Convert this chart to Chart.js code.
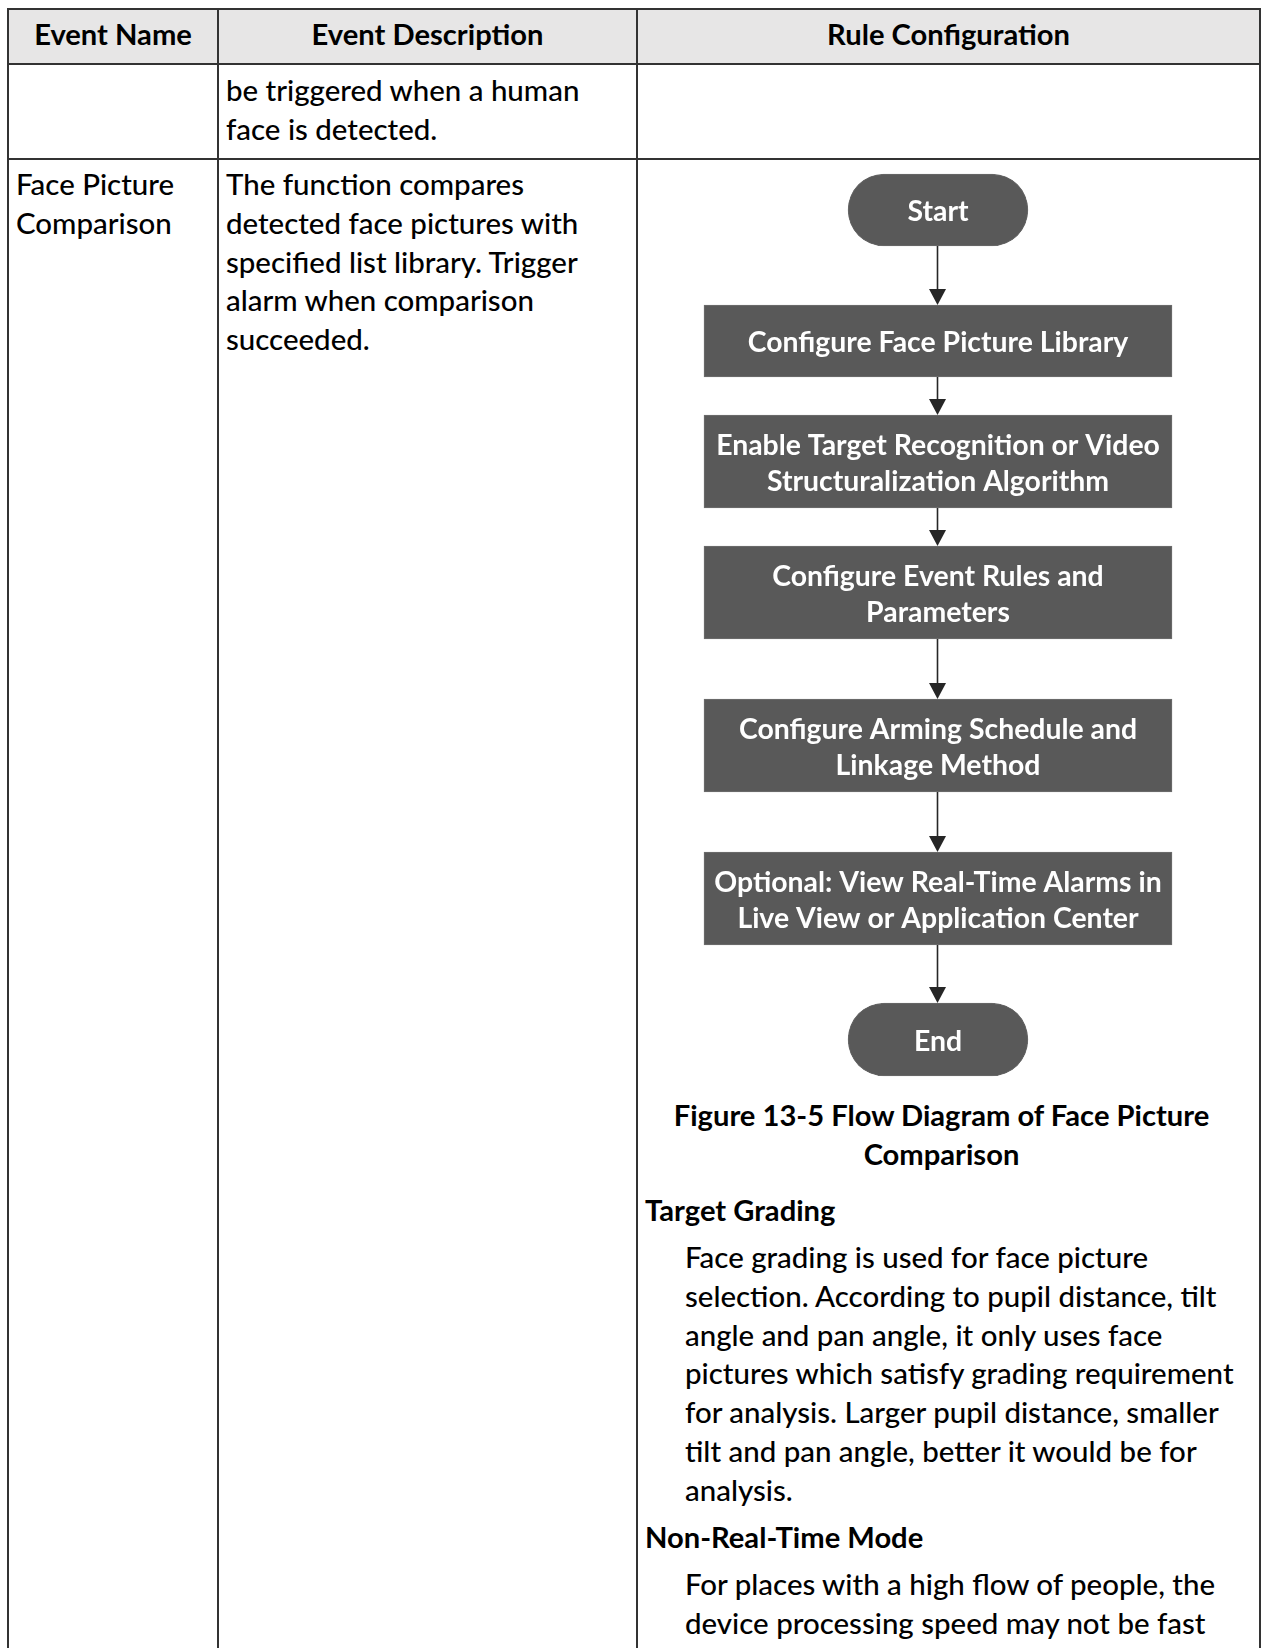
<!DOCTYPE html>
<html>
<head>
<meta charset="utf-8">
<script src="https://cdn.jsdelivr.net/npm/chart.js@4.4.1/dist/chart.umd.min.js"></script>
<style>
  html, body { margin: 0; padding: 0; background: #fff; }
  body { width: 1264px; height: 1648px; overflow: hidden; position: relative;
         font-family: Lato, "Open Sans", sans-serif; color: #000; }
  table.doc { position: absolute; left: 7px; top: 8px; width: 1254px;
              border-collapse: separate; border-spacing: 0; table-layout: fixed;
              border-left: 2px solid #333; border-top: 2px solid #333; }
  table.doc th, table.doc td { box-sizing: border-box; border-right: 2px solid #333;
              border-bottom: 2px solid #333; vertical-align: top; white-space: nowrap;
              padding: 0 0 0 7px; line-height: 38.8px; font-size: var(--fs); font-weight: var(--fw); }
  table.doc th { background: #e7e6e6; text-align: center; padding-left: 0;
                 font-weight: 700; font-size: var(--fb); }
  tr.hd { height: 55px; }
  tr.r1 { height: 95px; }
  tr.r2 { height: 1540px; }
  td.rule { padding: 0 !important; }
  .cell { position: relative; width: 100%; height: 1480px; }
  .blk { position: absolute; white-space: nowrap; line-height: 38.8px; }
  .bold { font-weight: 700; font-size: var(--fb); }
  .txt { font-size: var(--fs); font-weight: var(--fw); }
  #flow { position: absolute; left: 2px; top: 2px; }
</style>
</head>
<body>
<table class="doc">
  <thead>
    <tr class="hd">
      <th style="width:210px">Event Name</th>
      <th style="width:419px">Event Description</th>
      <th style="width:623px">Rule Configuration</th>
    </tr>
  </thead>
  <tbody>
    <tr class="r1">
      <td></td>
      <td>be triggered when a human<br>face is detected.</td>
      <td></td>
    </tr>
    <tr class="r2">
      <td>Face Picture<br>Comparison</td>
      <td>The function compares<br>detected face pictures with<br>specified list library. Trigger<br>alarm when comparison<br>succeeded.</td>
      <td class="rule">
        <div class="cell">
          <canvas id="flow" width="616" height="930"></canvas>
          <div class="blk bold" id="caption" style="left:-8px;width:623px;text-align:center">Figure 13-5 Flow Diagram of Face Picture<br>Comparison</div>
          <div class="blk bold" id="h1" style="left:7px">Target Grading</div>
          <div class="blk txt" id="p1" style="left:47px">Face grading is used for face picture<br>selection. According to pupil distance, tilt<br>angle and pan angle, it only uses face<br>pictures which satisfy grading requirement<br>for analysis. Larger pupil distance, smaller<br>tilt and pan angle, better it would be for<br>analysis.</div>
          <div class="blk bold" id="h2" style="left:7px">Non-Real-Time Mode</div>
          <div class="blk txt" id="p2" style="left:47px">For places with a high flow of people, the<br>device processing speed may not be fast</div>
        </div>
      </td>
    </tr>
  </tbody>
</table>

<script>
// flow diagram steps, top to bottom (diagram units, y grows downward)
const steps = [
  'Start',
  'Configure Face Picture Library',
  'Enable Target Recognition or Video\nStructuralization Algorithm',
  'Configure Event Rules and\nParameters',
  'Configure Arming Schedule and\nLinkage Method',
  'Optional: View Real-Time Alarms in\nLive View or Application Center',
  'End'
];
const stepKind = ['terminal', 'process', 'process', 'process', 'process', 'process', 'terminal'];
const stepTop = [12, 143, 253, 384, 537, 690, 841];
const stepBottom = [84, 215, 346, 477, 630, 783, 914];
const flowX = 298;

const LINE = 38.8;
const BODY_WEIGHT = 500;
const meas = document.createElement('canvas').getContext('2d');
function widthAt(text, weight, size) {
  meas.font = weight + ' ' + size + 'px Lato';
  return meas.measureText(text).width;
}
function baseOff(weight, size) {
  meas.font = weight + ' ' + size + 'px Lato';
  const m = meas.measureText('Hg');
  const a = Math.round(m.fontBoundingBoxAscent), d = Math.round(m.fontBoundingBoxDescent);
  return (LINE - (a + d)) / 2 + a;
}

const bodySize = 100 * 550 / widthAt('pictures which satisfy grading requirement', BODY_WEIGHT, 100);
const boldSize = 100 * 537 / widthAt('Figure 13-5 Flow Diagram of Face Picture', 700, 100);
const boxFont = 100 * 444 / widthAt('Enable Target Recognition or Video', 700, 100);
document.body.style.setProperty('--fs', bodySize + 'px');
document.body.style.setProperty('--fb', boldSize + 'px');
document.body.style.setProperty('--fw', BODY_WEIGHT);

const offN = baseOff(BODY_WEIGHT, bodySize), offB = baseOff(700, boldSize);
document.querySelectorAll('thead th').forEach(c => c.style.paddingTop = (46 - 10 - offB) + 'px');
document.querySelectorAll('tr.r1 td').forEach(c => c.style.paddingTop = (102 - 65 - offN) + 'px');
document.querySelectorAll('tr.r2 td:not(.rule)').forEach(c => c.style.paddingTop = (196 - 160 - offN) + 'px');
// baselines inside the rule cell (cell origin at page y 160)
[['caption', 967, offB], ['h1', 1062, offB], ['p1', 1109, offN], ['h2', 1389, offB], ['p2', 1436, offN]]
  .forEach(([id, b, off]) => document.getElementById(id).style.top = (b - off) + 'px');

const stepData = kind => steps
  .map((s, i) => ({ x: flowX, y: [stepTop[i], stepBottom[i]], label: s, kind: stepKind[i] }))
  .filter(d => d.kind === kind);

const flowPlugin = {
  id: 'flow',
  afterDatasetsDraw(chart) {
    const { ctx, scales: { x, y } } = chart;
    ctx.save();
    ctx.strokeStyle = '#262626';
    ctx.fillStyle = '#262626';
    ctx.lineWidth = 1.6;
    const px = Math.round(x.getPixelForValue(flowX)) - 0.5;
    for (let i = 0; i < steps.length - 1; i++) {
      const y0 = y.getPixelForValue(stepBottom[i]);
      const y1 = y.getPixelForValue(stepTop[i + 1]);
      ctx.beginPath();
      ctx.moveTo(px, y0);
      ctx.lineTo(px, y1 - 12);
      ctx.stroke();
      ctx.beginPath();
      ctx.moveTo(px - 8.5, y1 - 16);
      ctx.lineTo(px + 8.5, y1 - 16);
      ctx.lineTo(px, y1);
      ctx.closePath();
      ctx.fill();
    }
    ctx.fillStyle = '#fff';
    ctx.font = '700 ' + boxFont + 'px Lato';
    ctx.textAlign = 'center';
    ctx.textBaseline = 'alphabetic';
    chart.data.datasets.forEach((ds, di) => {
      chart.getDatasetMeta(di).data.forEach((bar, j) => {
        const lines = ds.data[j].label.split('\n');
        const cy = (bar.y + bar.base) / 2;
        lines.forEach((t, k) => ctx.fillText(t, bar.x, cy + 11 + (k - (lines.length - 1) / 2) * 36));
      });
    });
    ctx.restore();
  }
};

new Chart(document.getElementById('flow'), {
  type: 'bar',
  data: {
    datasets: [
      {
        label: 'terminal',
        data: stepData('terminal'),
        backgroundColor: '#595959',
        borderColor: '#6a6a6a',
        borderWidth: 1,
        borderSkipped: false,
        borderRadius: 60,
        grouped: false,
        barThickness: 180,
        maxBarThickness: 180
      },
      {
        label: 'process',
        data: stepData('process'),
        backgroundColor: '#595959',
        borderColor: '#6f6f6f',
        borderWidth: 1,
        borderSkipped: false,
        borderRadius: 0,
        grouped: false,
        barThickness: 468,
        maxBarThickness: 468
      }
    ]
  },
  options: {
    responsive: false,
    animation: false,
    events: [],
    layout: { padding: 0 },
    plugins: { legend: { display: false }, tooltip: { enabled: false } },
    scales: {
      x: { type: 'linear', min: 0, max: 616, offset: false, display: false },
      y: { type: 'linear', min: 0, max: 930, reverse: true, display: false }
    }
  },
  plugins: [flowPlugin]
});
</script>
</body>
</html>
